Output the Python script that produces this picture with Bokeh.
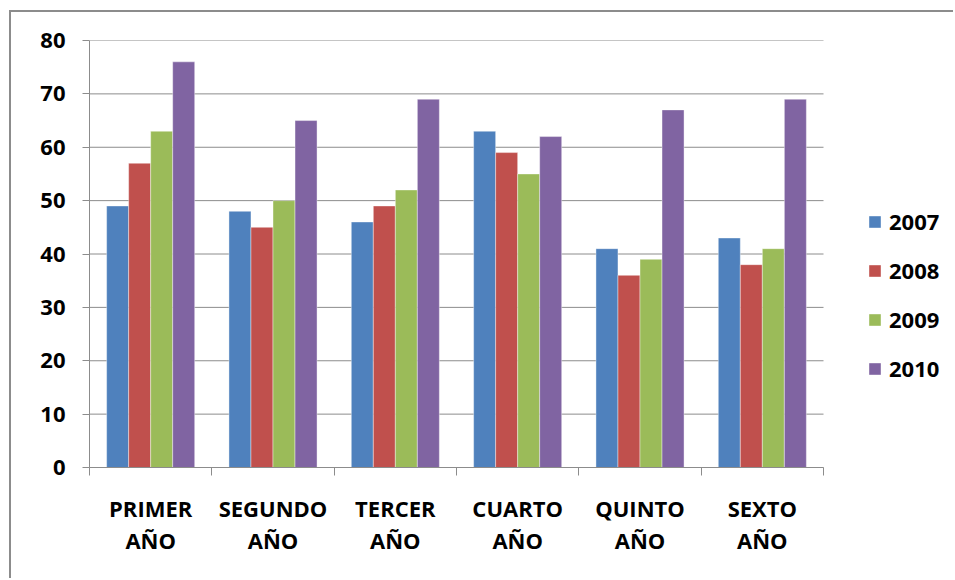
import numpy as np
from bokeh.plotting import figure
from bokeh.models import Range1d, FixedTicker, Legend, LegendItem, ColumnDataSource
from bokeh.embed import file_html
from bokeh.resources import INLINE

categories = ["PRIMER\nAÑO", "SEGUNDO\nAÑO", "TERCER\nAÑO", "CUARTO\nAÑO", "QUINTO\nAÑO", "SEXTO\nAÑO"]
years = ["2007", "2008", "2009", "2010"]
v2007 = [49, 48, 46, 63, 41, 43]
v2008 = [57, 45, 49, 59, 36, 38]
v2009 = [63, 50, 52, 55, 39, 41]
v2010 = [76, 65, 69, 62, 67, 69]
y_ticks = [0, 10, 20, 30, 40, 50, 60, 70, 80]

colors = ["#4F81BD", "#C0504D", "#9BBB59", "#8064A2"]
series = [v2007, v2008, v2009, v2010]
FONT = "Open Sans"
FSIZE = "22px"
GRID = "#8c8c8c"

n = len(categories)
centers = np.arange(n) + 0.5
bar_w = 0.18
offsets = (np.arange(len(years)) - (len(years) - 1) / 2) * bar_w

# plot area spans 734 px for the categories; frame extends right to hold the legend
frame_px = 944 - 78
cat_px = 734
x_end = n * frame_px / cat_px

p = figure(width=944, height=568, output_backend="svg", toolbar_location=None,
           x_range=Range1d(0, x_end), y_range=Range1d(0, 80),
           min_border_left=78, min_border_top=28, min_border_right=0, min_border_bottom=113,
           styles={"margin-left": "9px", "margin-top": "10px",
                   "border-left": "2px solid #8c8c8c", "border-top": "2px solid #8c8c8c"})
p.outline_line_color = None
p.background_fill_color = "white"
p.border_fill_color = "white"

# horizontal gridlines limited to the category area
p.segment(x0=0, x1=n, y0=y_ticks, y1=y_ticks, line_color=GRID, line_width=1)

renderers = []
for yr, vals, col, off in zip(years, series, colors, offsets):
    src = ColumnDataSource(dict(x=centers + off, top=vals))
    r = p.vbar(x="x", top="top", width=bar_w, source=src, fill_color=col,
               line_color="white", line_alpha=0.4, line_width=1)
    renderers.append((yr, r))

# x axis
xa = p.xaxis[0]
xa.bounds = (0, n)
xa.ticker = FixedTicker(ticks=list(centers), minor_ticks=list(range(n + 1)))
xa.major_label_overrides = {float(c): lab for c, lab in zip(centers, categories)}
xa.major_tick_out = 0
xa.major_tick_in = 0
xa.minor_tick_out = 8
xa.minor_tick_in = 0
xa.minor_tick_line_color = GRID
xa.axis_line_color = GRID
xa.major_label_text_font = FONT
xa.major_label_text_font_style = "bold"
xa.major_label_text_font_size = FSIZE
xa.major_label_text_color = "black"
xa.major_label_text_line_height = 1.08
xa.major_label_standoff = 17

# y axis
ya = p.yaxis[0]
ya.ticker = FixedTicker(ticks=y_ticks)
ya.minor_tick_line_color = None
ya.major_tick_out = 7
ya.major_tick_in = 0
ya.major_tick_line_color = GRID
ya.axis_line_color = GRID
ya.major_label_text_font = FONT
ya.major_label_text_font_style = "bold"
ya.major_label_text_font_size = FSIZE
ya.major_label_text_color = "black"
ya.major_label_standoff = 17

p.xgrid.grid_line_color = None
p.ygrid.grid_line_color = None

legend = Legend(items=[LegendItem(label=yr, renderers=[r]) for yr, r in renderers],
                location=(778, 84), orientation="vertical")
legend.padding = 0
legend.margin = 0
legend.border_line_color = None
legend.background_fill_alpha = 0
legend.glyph_width = 15
legend.glyph_height = 15
legend.label_height = 25
legend.label_standoff = 7
legend.spacing = 19
legend.label_text_font = FONT
legend.label_text_font_style = "bold"
legend.label_text_font_size = FSIZE
legend.label_text_color = "black"
p.add_layout(legend, "center")

open("out.html", "w").write(file_html(p, INLINE))
